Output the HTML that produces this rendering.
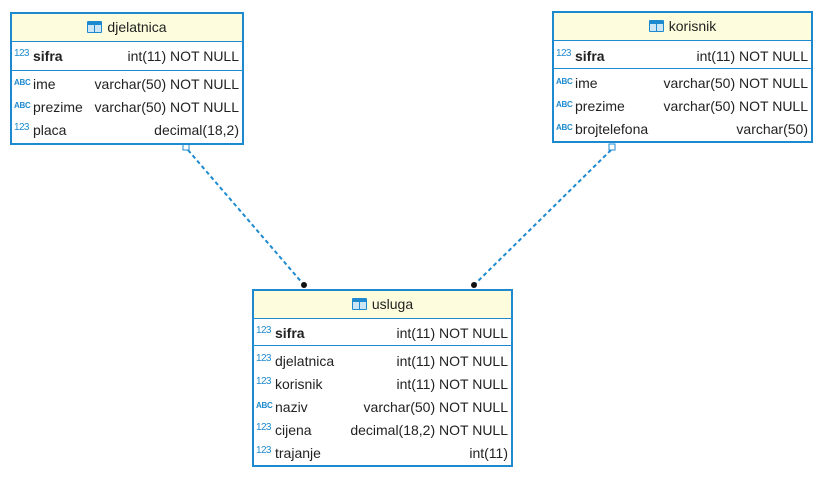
<!DOCTYPE html>
<html><head><meta charset="utf-8"><style>
body{margin:0;width:824px;height:477px;background:#fff;position:relative;font-family:"Liberation Sans",sans-serif;font-size:14px;color:#222;overflow:hidden}
.t{position:absolute;border:2px solid #1d8ad0;background:#fff;box-sizing:border-box}
.h{position:absolute;left:0;right:0;top:0;height:27px;background:#fdfdde;border-bottom:1px solid #1d8ad0;text-align:center;line-height:27px}
.h i{display:inline-block;width:13px;height:10px;border:1px solid #1d8ad0;background:linear-gradient(#1d8ad0 0 3px,transparent 3px) ,#cde6f6;vertical-align:-1px;margin-right:5px;border-radius:1px;position:relative}
.h i:after{content:"";position:absolute;left:6px;top:0;bottom:0;width:1px;background:#1d8ad0}
.r{position:absolute;left:0;right:0;height:22px;line-height:22px}
.r .n{position:absolute;left:21px}
.r .v{position:absolute;right:3px}
.r .ic{position:absolute;left:2px;top:5px;line-height:10px;font-size:8px;color:#1d8ad0;font-weight:bold;letter-spacing:-0.3px}
.r .ic.n2{font-weight:normal;font-size:10px;letter-spacing:-0.6px;top:4px}
.s{position:absolute;left:0;right:0;height:1px;background:#1d8ad0}
</style></head><body>
<svg width="824" height="477" style="position:absolute;left:0;top:0">
<line x1="188" y1="150" x2="304" y2="285" stroke="#1d8ad0" stroke-width="2" stroke-dasharray="4,3"/>
<line x1="611" y1="150" x2="474" y2="285" stroke="#1d8ad0" stroke-width="2" stroke-dasharray="4,3"/>
<rect x="183" y="144" width="6" height="6" fill="#fff" stroke="#1d8ad0"/>
<rect x="609" y="144" width="6" height="6" fill="#fff" stroke="#1d8ad0"/>
<circle cx="304" cy="285" r="3" fill="#111"/>
<circle cx="474" cy="285" r="3" fill="#111"/>
</svg>

<div class="t" style="left:10px;top:12px;width:234px;height:133px">
<div class="h"><i></i>djelatnica</div>
<div class="r" style="top:31px"><span class="ic n2">123</span><b class="n">sifra</b><span class="v">int(11) NOT NULL</span></div>
<div class="s" style="top:56px"></div>
<div class="r" style="top:59px"><span class="ic">ABC</span><span class="n">ime</span><span class="v">varchar(50) NOT NULL</span></div>
<div class="r" style="top:82px"><span class="ic">ABC</span><span class="n">prezime</span><span class="v">varchar(50) NOT NULL</span></div>
<div class="r" style="top:105px"><span class="ic n2">123</span><span class="n">placa</span><span class="v">decimal(18,2)</span></div>
</div>

<div class="t" style="left:552px;top:11px;width:261px;height:132px">
<div class="h"><i></i>korisnik</div>
<div class="r" style="top:32px"><span class="ic n2">123</span><b class="n">sifra</b><span class="v">int(11) NOT NULL</span></div>
<div class="s" style="top:55px"></div>
<div class="r" style="top:59px"><span class="ic">ABC</span><span class="n">ime</span><span class="v">varchar(50) NOT NULL</span></div>
<div class="r" style="top:82px"><span class="ic">ABC</span><span class="n">prezime</span><span class="v">varchar(50) NOT NULL</span></div>
<div class="r" style="top:105px"><span class="ic">ABC</span><span class="n">brojtelefona</span><span class="v">varchar(50)</span></div>
</div>

<div class="t" style="left:252px;top:289px;width:261px;height:178px">
<div class="h"><i></i>usluga</div>
<div class="r" style="top:31px"><span class="ic n2">123</span><b class="n">sifra</b><span class="v">int(11) NOT NULL</span></div>
<div class="s" style="top:54px"></div>
<div class="r" style="top:59px"><span class="ic n2">123</span><span class="n">djelatnica</span><span class="v">int(11) NOT NULL</span></div>
<div class="r" style="top:82px"><span class="ic n2">123</span><span class="n">korisnik</span><span class="v">int(11) NOT NULL</span></div>
<div class="r" style="top:105px"><span class="ic">ABC</span><span class="n">naziv</span><span class="v">varchar(50) NOT NULL</span></div>
<div class="r" style="top:128px"><span class="ic n2">123</span><span class="n">cijena</span><span class="v">decimal(18,2) NOT NULL</span></div>
<div class="r" style="top:151px"><span class="ic n2">123</span><span class="n">trajanje</span><span class="v">int(11)</span></div>
</div>
</body></html>
